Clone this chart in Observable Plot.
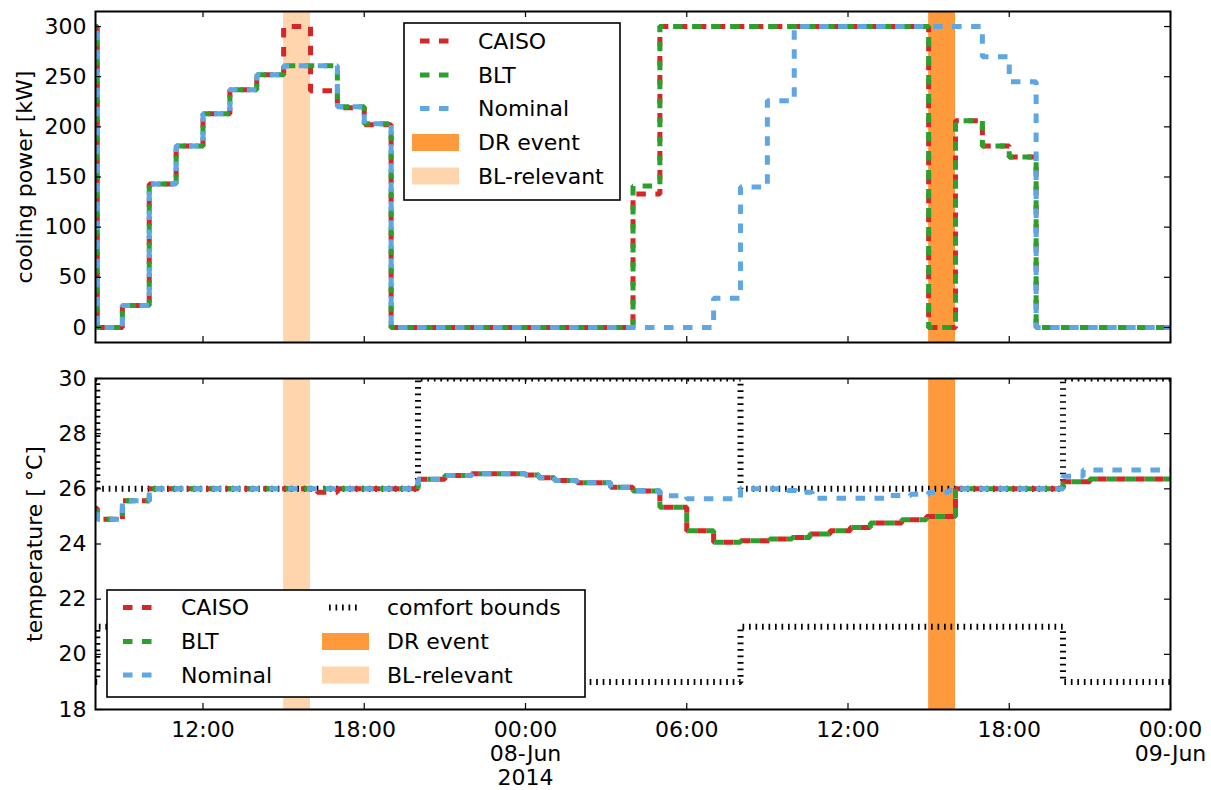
<!DOCTYPE html>
<html><head><meta charset="utf-8">
<script src="https://cdn.jsdelivr.net/npm/d3@7"></script>
<script src="https://cdn.jsdelivr.net/npm/@observablehq/plot@0.6"></script>
<style>
body{margin:0;background:#fff;font-family:"DejaVu Sans",sans-serif;}
#wrap{position:relative;width:1211px;height:790px;overflow:hidden;}
#topPanel{position:absolute;left:0;top:0;}
#botPanel{position:absolute;left:0;top:352px;}
.leg{position:absolute;}
</style></head><body>
<div id="wrap"><div id="topPanel"></div><div id="botPanel"></div>
<svg id="leg1" class="leg" style="left:403px;top:22px" width="218" height="179"></svg>
<svg id="leg2" class="leg" style="left:106px;top:589px" width="481" height="110"></svg>
</div>
<script>
// ---------- data ----------
const caisoPowerTimes = ["06-07 08:00","06-07 08:04","06-07 09:00","06-07 10:00","06-07 11:00","06-07 12:00","06-07 13:00","06-07 14:00","06-07 15:00","06-07 16:00","06-07 17:00","06-07 18:00","06-07 19:00","06-08 04:00","06-08 05:00","06-08 15:00","06-08 16:00","06-08 17:00","06-08 18:00","06-08 19:00","06-09 00:00"];
const caisoPower = [300,0,22,143,181,213,237,252,300,236,219,202,0,133,300,0,206,181,170,0,0];
const bltPowerTimes = caisoPowerTimes;
const bltPower = [300,0,22,143,181,213,237,252,261,261,220,203,0,141,300,0,206,181,170,0,0];
const nominalPowerTimes = ["06-07 08:00","06-07 08:04","06-07 09:00","06-07 10:00","06-07 11:00","06-07 12:00","06-07 13:00","06-07 14:00","06-07 15:00","06-07 17:00","06-07 18:00","06-07 19:00","06-08 07:00","06-08 08:00","06-08 09:00","06-08 10:00","06-08 17:00","06-08 18:00","06-08 19:00","06-09 00:00"];
const nominalPower = [300,0,22,143,181,213,237,252,261,220,203,0,29,140,226,300,270,245,0,0];

const caisoTempTimes = ["06-07 08:00","06-07 08:04","06-07 09:00","06-07 10:00","06-07 16:15","06-07 17:00","06-07 20:00","06-07 21:00","06-07 22:00","06-08 00:00","06-08 00:30","06-08 01:05","06-08 01:55","06-08 03:10","06-08 04:00","06-08 05:00","06-08 06:00","06-08 07:00","06-08 08:00","06-08 09:05","06-08 09:55","06-08 10:35","06-08 11:20","06-08 12:05","06-08 12:50","06-08 14:00","06-08 14:55","06-08 15:55","06-08 16:00","06-08 20:00","06-08 21:00","06-09 00:00"];
const caisoTemp = [25.3,24.9,25.57,26.0,25.88,26.0,26.35,26.48,26.55,26.5,26.4,26.3,26.22,26.06,25.92,25.33,24.48,24.06,24.12,24.18,24.24,24.36,24.48,24.6,24.76,24.88,25.0,25.27,26.0,26.26,26.36,26.36];
const bltTempTimes = ["06-07 08:00","06-07 08:04","06-07 09:00","06-07 10:00","06-07 20:00","06-07 21:00","06-07 22:00","06-08 00:00","06-08 00:30","06-08 01:05","06-08 01:55","06-08 03:10","06-08 04:00","06-08 05:00","06-08 06:00","06-08 07:00","06-08 08:00","06-08 09:05","06-08 09:55","06-08 10:35","06-08 11:20","06-08 12:05","06-08 12:50","06-08 14:00","06-08 14:55","06-08 16:00","06-08 20:00","06-08 21:00","06-09 00:00"];
const bltTemp = [25.3,24.9,25.57,26.0,26.35,26.48,26.55,26.5,26.4,26.3,26.22,26.06,25.92,25.33,24.48,24.06,24.12,24.18,24.24,24.36,24.48,24.6,24.76,24.88,25.0,26.0,26.26,26.36,26.36];
const nominalTempTimes = ["06-07 08:00","06-07 08:04","06-07 09:00","06-07 10:00","06-07 20:00","06-07 21:00","06-07 22:00","06-08 00:00","06-08 00:30","06-08 01:05","06-08 01:55","06-08 03:10","06-08 04:00","06-08 05:00","06-08 06:00","06-08 08:00","06-08 09:45","06-08 10:05","06-08 10:40","06-08 13:30","06-08 14:20","06-08 15:00","06-08 15:45","06-08 16:00","06-08 20:00","06-08 20:45","06-09 00:00"];
const nominalTemp = [25.3,24.9,25.57,26.0,26.35,26.48,26.55,26.5,26.4,26.3,26.22,26.06,25.94,25.75,25.64,26.0,25.94,25.88,25.66,25.76,25.8,25.88,25.94,26.0,26.46,26.68,26.68];

const boundTimes = ["06-07 08:00","06-07 08:04","06-07 20:00","06-08 08:00","06-08 20:00","06-09 00:00"];
const upperBound = [30,26,30,26,30,30];
const lowerBound = [19,21,19,21,19,19];

const drStart = ["06-08 15:00"], drEnd = ["06-08 16:00"];
const blStart = ["06-07 15:00"], blEnd = ["06-07 16:00"];

const xTickTimes = ["06-07 12:00","06-07 18:00","06-08 00:00","06-08 06:00","06-08 12:00","06-08 18:00","06-09 00:00"];
const xTickLabels = ["12:00","18:00","00:00\n08-Jun\n2014","06:00","12:00","18:00","00:00\n09-Jun"];
const powerTicks = [0,50,100,150,200,250,300];
const tempTicks = [18,20,22,24,26,28,30];
const xStart = "06-07 08:00", xEnd = "06-09 00:00";

const seriesNames = ["CAISO","BLT","Nominal"];
const seriesColors = ["#d62728","#2ca02c","#5fa6e4"];
const drColor = "#fe9a3c", blColor = "#fed5ac";

// ---------- helpers ----------
const parse = s => new Date("2014-" + s.replace(" ", "T") + ":00Z");
const rows = (times, vals) => times.map((t, i) => ({t: parse(t), v: vals[i]}));
const bands = (a, b) => a.map((s, i) => ({x1: parse(s), x2: parse(b[i])}));
const xTicksD = xTickTimes.map(parse);
const labelMap = new Map(xTicksD.map((d, i) => [+d, xTickLabels[i]]));

const W = 1211, ML = 95, MR = 41;
const PW = W - ML - MR, PH = 331;
const DOTS = "1.7,4.8";

function seriesMarks(list, offs) {
  return list.map((data, i) => Plot.lineY(data, {
    x: "t", y: "v", curve: "step-after", stroke: seriesColors[i], strokeWidth: 5,
    strokeDasharray: "9.5,9.5", strokeDashoffset: offs[i], strokeLinecap: "butt", strokeLinejoin: "miter", clip: true
  }));
}
function boundMark(data) {
  return Plot.lineY(data, {x: "t", y: "v", curve: "step-after", stroke: "black", strokeWidth: 6,
    strokeDasharray: DOTS, strokeLinecap: "butt", strokeLinejoin: "miter", clip: true});
}
function frameTicks(yt) {
  return [
    Plot.tickY(yt, {y: d => d, insetRight: PW - 6, stroke: "black", strokeWidth: 1.2}),
    Plot.tickY(yt, {y: d => d, insetLeft: PW - 6, stroke: "black", strokeWidth: 1.2}),
    Plot.tickX(xTicksD, {x: d => d, insetTop: PH - 6, stroke: "black", strokeWidth: 1.2}),
    Plot.tickX(xTicksD, {x: d => d, insetBottom: PH - 6, stroke: "black", strokeWidth: 1.2})
  ];
}
const style = {fontFamily: "DejaVu Sans", fontSize: "22px", color: "black", background: "white"};

// ---------- top panel ----------
const topChart = Plot.plot({
  width: W, height: 352, marginLeft: ML, marginRight: MR, marginTop: 11, marginBottom: 10,
  style,
  x: {type: "utc", domain: [parse(xStart), parse(xEnd)], axis: null},
  y: {domain: [-15, 315], axis: null},
  marks: [
    Plot.rect(bands(blStart, blEnd), {x1: "x1", x2: "x2", fill: blColor}),
    Plot.rect(bands(drStart, drEnd), {x1: "x1", x2: "x2", fill: drColor}),
    ...seriesMarks([rows(caisoPowerTimes, caisoPower), rows(bltPowerTimes, bltPower), rows(nominalPowerTimes, nominalPower)], [0, 7, 13]),
    ...frameTicks(powerTicks),
    Plot.axisY({anchor: "left", ticks: powerTicks, tickSize: 0, tickPadding: 9, label: null, fontSize: 22}),
    Plot.text(["cooling power [kW]"], {frameAnchor: "left", textAnchor: "middle", rotate: -90, dx: -71, fontSize: 22}),
    Plot.frame({stroke: "black", strokeWidth: 2})
  ]
});
document.getElementById("topPanel").append(topChart);

// ---------- bottom panel ----------
const botChart = Plot.plot({
  width: W, height: 438, marginLeft: ML, marginRight: MR, marginTop: 26, marginBottom: 81,
  style,
  x: {type: "utc", domain: [parse(xStart), parse(xEnd)], axis: null},
  y: {domain: [18, 30], axis: null},
  marks: [
    Plot.rect(bands(blStart, blEnd), {x1: "x1", x2: "x2", fill: blColor}),
    Plot.rect(bands(drStart, drEnd), {x1: "x1", x2: "x2", fill: drColor}),
    boundMark(rows(boundTimes, upperBound)),
    boundMark(rows(boundTimes, lowerBound)),
    ...seriesMarks([rows(caisoTempTimes, caisoTemp), rows(bltTempTimes, bltTemp), rows(nominalTempTimes, nominalTemp)], [0, 16, 13]),
    ...frameTicks(tempTicks),
    Plot.axisY({anchor: "left", ticks: tempTicks, tickSize: 0, tickPadding: 9, label: null, fontSize: 22}),
    Plot.axisX({anchor: "bottom", ticks: xTicksD, tickSize: 0, tickPadding: 10, label: null, fontSize: 22, lineHeight: 1.1, tickFormat: d => labelMap.get(+d)}),
    Plot.text(["temperature [ °C]"], {frameAnchor: "left", textAnchor: "middle", rotate: -90, dx: -61, fontSize: 22}),
    Plot.frame({stroke: "black", strokeWidth: 2})
  ]
});
document.getElementById("botPanel").append(botChart);

// ---------- legends ----------
const NS = "http://www.w3.org/2000/svg";
function el(svg, tag, attrs, text) {
  const e = document.createElementNS(NS, tag);
  for (const k in attrs) e.setAttribute(k, attrs[k]);
  if (text) e.textContent = text;
  svg.appendChild(e);
  return e;
}
function lineSwatch(svg, x, y, color, dotted) {
  el(svg, "line", {x1: x, x2: x + 30, y1: y, y2: y, stroke: color, "stroke-width": dotted ? 6 : 5,
    "stroke-dasharray": dotted ? DOTS : "9.5,9.5"});
}
function rectSwatch(svg, x, y, color) {
  el(svg, "rect", {x: x, y: y - 8.5, width: 47, height: 17, fill: color});
}
function label(svg, x, y, t) {
  el(svg, "text", {x: x, y: y, "font-family": "DejaVu Sans", "font-size": 22, "dominant-baseline": "central"}, t);
}
// top legend
{
  const s = document.getElementById("leg1");
  el(s, "rect", {x: 1, y: 1, width: 216, height: 177, fill: "white", stroke: "black", "stroke-width": 1.6});
  const ys = [19, 53, 86.5, 120.5, 154];
  seriesNames.forEach((n, i) => { lineSwatch(s, 17, ys[i], seriesColors[i]); label(s, 75, ys[i], n); });
  rectSwatch(s, 9, ys[3], drColor); label(s, 75, ys[3], "DR event");
  rectSwatch(s, 9, ys[4], blColor); label(s, 75, ys[4], "BL-relevant");
}
// bottom legend
{
  const s = document.getElementById("leg2");
  el(s, "rect", {x: 1, y: 1, width: 478, height: 107, fill: "white", stroke: "black", "stroke-width": 1.6});
  const ys = [18.5, 52.5, 86];
  seriesNames.forEach((n, i) => { lineSwatch(s, 17, ys[i], seriesColors[i]); label(s, 75, ys[i], n); });
  lineSwatch(s, 223, ys[0], "black", true); label(s, 281, ys[0], "comfort bounds");
  rectSwatch(s, 216, ys[1], drColor); label(s, 281, ys[1], "DR event");
  rectSwatch(s, 216, ys[2], blColor); label(s, 281, ys[2], "BL-relevant");
}
</script>
</body></html>
